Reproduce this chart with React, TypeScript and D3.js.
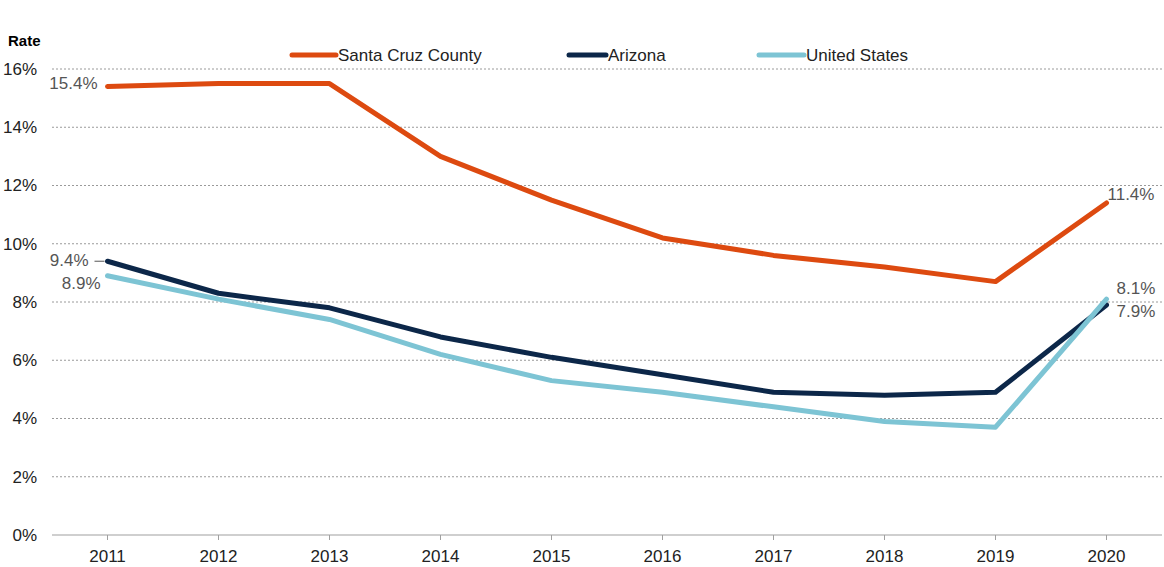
import React from 'react';
import * as d3 from 'd3';

const years = ['2011', '2012', '2013', '2014', '2015', '2016', '2017', '2018', '2019', '2020'];
const santaCruz = [15.4, 15.5, 15.5, 13.0, 11.5, 10.2, 9.6, 9.2, 8.7, 11.4];
const arizona = [9.4, 8.3, 7.8, 6.8, 6.1, 5.5, 4.9, 4.8, 4.9, 7.9];
const unitedStates = [8.9, 8.1, 7.4, 6.2, 5.3, 4.9, 4.4, 3.9, 3.7, 8.1];
const yTicks = [0, 2, 4, 6, 8, 10, 12, 14, 16];

const series = [
  { name: 'Santa Cruz County', values: santaCruz, color: '#DD4A10' },
  { name: 'Arizona', values: arizona, color: '#0C2749' },
  { name: 'United States', values: unitedStates, color: '#7DC4D4' },
];

export default function App() {
  const width = 1164;
  const height = 567;
  const margin = { top: 69, left: 52, bottom: 32, right: 2 };
  const iwidth = width - margin.left - margin.right;
  const iheight = height - margin.top - margin.bottom;

  const x = d3.scaleBand().domain(years).range([0, iwidth]);
  const y = d3.scaleLinear().domain([0, 16]).range([iheight, 0]);
  const cx = (i: number) => (x(years[i]) as number) + x.bandwidth() / 2;

  const line = d3.line<number>()
    .x((_, i) => cx(i))
    .y(d => y(d));

  const font = 'Liberation Sans, Arial, sans-serif';
  const last = years.length - 1;
  const labelColor = '#555';

  // legend line start positions
  const legendX = [290, 567, 757];
  const legendLen = [46, 39, 47];

  return (
    <div style={{ position: 'absolute', left: 0, top: 0 }}>
      <svg width={width} height={height} style={{ display: 'block', fontFamily: font }}>
        <text x={8} y={46} fontSize={15} fontWeight="bold" fill="#000">Rate</text>
        <g transform={`translate(${margin.left},${margin.top})`}>
          {yTicks.map(t => (
            <g key={t}>
              {t > 0 && (
                <line x1={0} x2={iwidth} y1={y(t)} y2={y(t)} stroke="#9a9a9a" strokeWidth={1} strokeDasharray="2,2" />
              )}
              <text x={-15} y={y(t)} dy="0.35em" textAnchor="end" fontSize={17} fill="#222">{t}%</text>
            </g>
          ))}
          <line x1={0} x2={iwidth} y1={iheight} y2={iheight} stroke="#a0a0a0" strokeWidth={1.2} />
          {years.map((yr, i) => (
            <g key={yr}>
              <line x1={cx(i)} x2={cx(i)} y1={iheight} y2={iheight + 5} stroke="#a0a0a0" />
              <text x={cx(i)} y={iheight + 21} dy="0.35em" textAnchor="middle" fontSize={17} fill="#222">{yr}</text>
            </g>
          ))}
          {series.map(s => (
            <path key={s.name} d={line(s.values) || ''} fill="none" stroke={s.color} strokeWidth={5} strokeLinejoin="round" strokeLinecap="round" />
          ))}
          {/* value labels */}
          <text x={cx(0) - 10} y={y(santaCruz[0]) - 3} dy="0.35em" textAnchor="end" fontSize={17} fill={labelColor}>15.4%</text>
          <line x1={cx(0) - 13} x2={cx(0) - 3} y1={y(arizona[0])} y2={y(arizona[0])} stroke={labelColor} strokeWidth={1} />
          <text x={cx(0) - 19} y={y(arizona[0]) - 1} dy="0.35em" textAnchor="end" fontSize={17} fill={labelColor}>9.4%</text>
          <text x={cx(0) - 7} y={y(unitedStates[0]) + 7} dy="0.35em" textAnchor="end" fontSize={17} fill={labelColor}>8.9%</text>
          <text x={cx(last) + 1} y={y(santaCruz[last]) - 9} dy="0.35em" textAnchor="start" fontSize={17} fill={labelColor}>11.4%</text>
          <text x={cx(last) + 10} y={y(unitedStates[last]) - 11} dy="0.35em" textAnchor="start" fontSize={17} fill={labelColor}>8.1%</text>
          <text x={cx(last) + 10} y={y(arizona[last]) + 6} dy="0.35em" textAnchor="start" fontSize={17} fill={labelColor}>7.9%</text>
        </g>
        {series.map((s, i) => (
          <g key={s.name} transform={`translate(${legendX[i]},55)`}>
            <line x1={2} x2={legendLen[i]} y1={0} y2={0} stroke={s.color} strokeWidth={5} strokeLinecap="round" />
            <text x={legendLen[i] + 2} y={0} dy="0.35em" fontSize={17} fill="#222">{s.name}</text>
          </g>
        ))}
      </svg>
    </div>
  );
}
